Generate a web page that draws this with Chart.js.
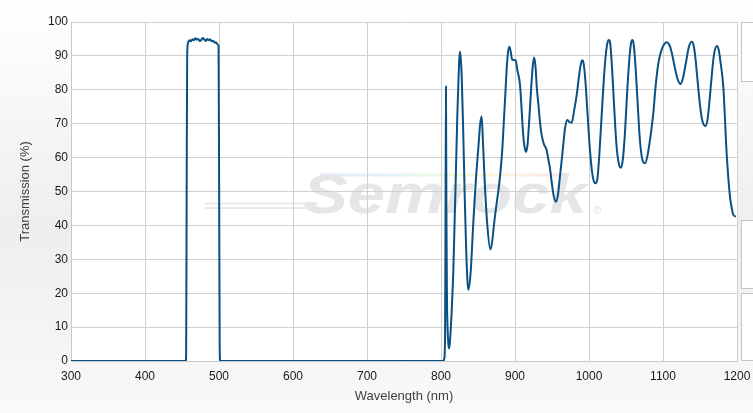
<!DOCTYPE html>
<html>
<head>
<meta charset="utf-8">
<script src="https://cdn.jsdelivr.net/npm/chart.js@4/dist/chart.umd.min.js"></script>
<style>
  html, body { margin: 0; padding: 0; background: #fff; }
  #wrap { width: 753px; height: 413px; }
</style>
</head>
<body>
<div id="wrap"><canvas id="chart" width="753" height="413"></canvas></div>
<script>
// spectrum: wavelength (nm) and transmission (%)
const wavelengths = [
  300, 455, 455.6, 456.3, 457, 458, 460, 462, 464, 466, 468, 470, 472, 474, 476, 478, 480,
  482, 484, 486, 488, 490, 492, 494, 496, 498, 499.4, 500.2, 500.9, 501.6,
  803, 804.5, 805.5, 806.1, 806.7, 807.3, 808, 809, 810, 811.2, 812.5, 814.5, 816.7, 818.5,
  820.3, 822, 823.5, 824.7, 825.7, 826.8, 828, 830, 832, 834, 836.9, 840, 843.7, 847, 850.5,
  853, 855, 857, 859.5, 862.6, 866.7, 869, 872, 875.2, 878, 880.6, 883, 885, 887, 888.7,
  890.5, 892.3, 894, 896, 898.5, 901, 903, 906.8, 909, 911, 913, 914.9, 917, 919.5, 922, 924,
  926.1, 928, 929.5, 931.5, 934, 936, 939, 942.8, 945, 947.3, 950, 952.5, 955.4, 958, 961,
  964, 967.6, 970.7, 973.5, 976.6, 980, 983.4, 986.5, 988.5, 990.7, 992.5, 995, 998, 1001,
  1004, 1006.5, 1009, 1011.5, 1014, 1017, 1020, 1023, 1025.5, 1027, 1028.5, 1031, 1034, 1037,
  1040, 1042.8, 1045.5, 1048.5, 1051.5, 1054.5, 1057, 1058.5, 1060, 1062.5, 1065.5, 1068.5,
  1071.5, 1075.7, 1079, 1082.4, 1086.9, 1090, 1093.7, 1097, 1100, 1105, 1108.5, 1112, 1116,
  1120, 1123.9, 1127, 1131, 1135, 1139, 1141.5, 1144, 1147, 1150, 1153, 1157.3, 1160, 1163,
  1166, 1169, 1173, 1175.5, 1177.5, 1181.5, 1186, 1190.5, 1193, 1195, 1198.5
];
const transmission = [
  0, 0, 2, 50, 90, 93.8, 94.6, 94.3, 94.9, 94.6, 95.2, 94.8, 95.0, 94.4, 94.7, 95.3, 94.9,
  94.4, 95.0, 94.6, 94.9, 94.3, 94.5, 93.9, 94.0, 93.4, 93.0, 50, 5, 0,
  0, 0.8, 8, 40, 81, 45, 20, 9, 5, 3.7, 7, 15, 27, 42,
  57, 72, 82, 89, 91.2, 89, 84, 68, 49, 33, 21, 26, 41, 53, 63,
  70, 72.1, 63, 51, 40, 32.9, 35, 41, 46.5, 51, 56.3, 63, 71, 79, 86,
  91, 92.7, 91.5, 89, 88.8, 88.6, 86, 81.4, 74, 67, 63, 61.7, 64, 72, 81, 87,
  89.5, 86, 80.5, 76, 70, 66.7, 64, 62.2, 59.5, 56.8, 52, 48.5, 47, 49, 55,
  61, 68.6, 71.1, 70.5, 70.3, 74, 78.5, 84, 87, 88.7, 88, 83, 73, 63,
  56, 53, 52.4, 54, 61, 72, 83, 91, 94.3, 94.7, 94, 87, 75, 64,
  58.5, 57, 59, 67, 79, 89, 94, 94.7, 94, 88, 77, 66,
  60, 58.3, 60.5, 65.2, 73.1, 81, 87.8, 91, 92.8, 94, 93.3, 90.8, 86.5,
  83, 81.7, 83.5, 88, 92.7, 94.2, 93, 89, 82, 75.5, 71, 69.3, 71, 77,
  84.5, 90.5, 92.9, 91.5, 88.5, 80.9, 61.3, 48.5, 45, 43.1, 42.6
];
const xTicks = [300, 400, 500, 600, 700, 800, 900, 1000, 1100, 1200];
const yTicks = [0, 10, 20, 30, 40, 50, 60, 70, 80, 90, 100];

const FONT = '"Liberation Sans", Arial, sans-serif';

// page background, white plot area, side widgets and the logo watermark
const backdrop = {
  id: 'backdrop',
  beforeDraw(chart) {
    const { ctx, chartArea: a, width, height } = chart;
    ctx.save();
    const g = ctx.createLinearGradient(0, 0, 0, height);
    g.addColorStop(0, '#ffffff');
    g.addColorStop(0.55, '#eeeeee');
    g.addColorStop(1, '#f9f9f9');
    ctx.fillStyle = g;
    ctx.fillRect(0, 0, width, height);
    ctx.fillStyle = '#ffffff';
    ctx.fillRect(a.left, a.top, a.right - a.left, a.bottom - a.top);

    // panels peeking in at the right edge
    ctx.strokeStyle = '#c4c4c4';
    ctx.lineWidth = 1;
    [[22.5, 59], [220.5, 68], [293.5, 67]].forEach(([y, h]) => {
      ctx.fillStyle = '#ffffff';
      ctx.fillRect(741.5, y, 20, h);
      ctx.strokeRect(741.5, y, 20, h);
    });

    // watermark
    ctx.strokeStyle = '#e8e8e8';
    ctx.lineWidth = 2;
    ctx.beginPath();
    ctx.moveTo(205, 203.5); ctx.lineTo(318, 203.5);
    ctx.moveTo(205, 208); ctx.lineTo(312, 208);
    ctx.stroke();
    const rb = ctx.createLinearGradient(320, 0, 560, 0);
    rb.addColorStop(0, 'rgba(200,200,240,0.45)');
    rb.addColorStop(0.3, 'rgba(190,230,250,0.45)');
    rb.addColorStop(0.5, 'rgba(210,245,190,0.5)');
    rb.addColorStop(0.7, 'rgba(250,240,180,0.5)');
    rb.addColorStop(1, 'rgba(250,200,200,0.45)');
    ctx.strokeStyle = rb;
    ctx.lineWidth = 3;
    ctx.beginPath();
    ctx.moveTo(320, 175); ctx.lineTo(560, 175);
    ctx.stroke();
    ctx.save();
    ctx.translate(303, 213);
    ctx.transform(1.2, 0, 0, 1, 0, 0);
    ctx.font = 'italic bold 56px ' + FONT;
    ctx.fillStyle = '#e6e6e6';
    ctx.fillText('Semrock', 0, 0);
    ctx.restore();
    ctx.font = '11px ' + FONT;
    ctx.fillStyle = '#e2e2e2';
    ctx.fillText('®', 593, 214);
    ctx.restore();
  }
};

new Chart(document.getElementById('chart'), {
  type: 'line',
  data: {
    datasets: [{
      data: wavelengths.map((x, i) => ({ x: x, y: transmission[i] })),
      borderColor: '#0b5083',
      borderWidth: 2,
      pointRadius: 0,
      fill: false,
      cubicInterpolationMode: 'monotone'
    }]
  },
  options: {
    responsive: false,
    animation: false,
    layout: { padding: { left: 0, right: 16, top: 22, bottom: 0 } },
    plugins: {
      legend: { display: false },
      tooltip: { enabled: false }
    },
    scales: {
      x: {
        type: 'linear',
        min: 300,
        max: 1200,
        afterFit: (s) => { s.height = 52; s.paddingLeft = 0; s.paddingRight = 0; },
        afterBuildTicks: (s) => { s.ticks = xTicks.map(v => ({ value: v })); },
        grid: { color: '#d0d0d0', drawTicks: false },
        border: { color: '#c8c8c8' },
        ticks: {
          padding: 8, color: '#1a1a1a', font: { family: FONT, size: 12 },
          callback: (v) => String(v)
        },
        title: {
          display: true,
          text: 'Wavelength (nm)',
          color: '#404040',
          font: { family: FONT, size: 13 },
          padding: { top: 0, bottom: 9 }
        }
      },
      y: {
        min: 0,
        max: 100,
        afterFit: (s) => { s.width = 71; s.paddingTop = 0; s.paddingBottom = 0; },
        afterBuildTicks: (s) => { s.ticks = yTicks.map(v => ({ value: v })); },
        grid: { color: '#d0d0d0', drawTicks: false },
        border: { color: '#c8c8c8' },
        ticks: {
          padding: 3, color: '#1a1a1a', font: { family: FONT, size: 12 },
          callback: (v) => String(v)
        },
        title: {
          display: true,
          text: 'Transmission (%)',
          color: '#404040',
          font: { family: FONT, size: 13 },
          padding: { top: 18, bottom: 0 }
        }
      }
    }
  },
  plugins: [backdrop]
});
</script>
</body>
</html>
